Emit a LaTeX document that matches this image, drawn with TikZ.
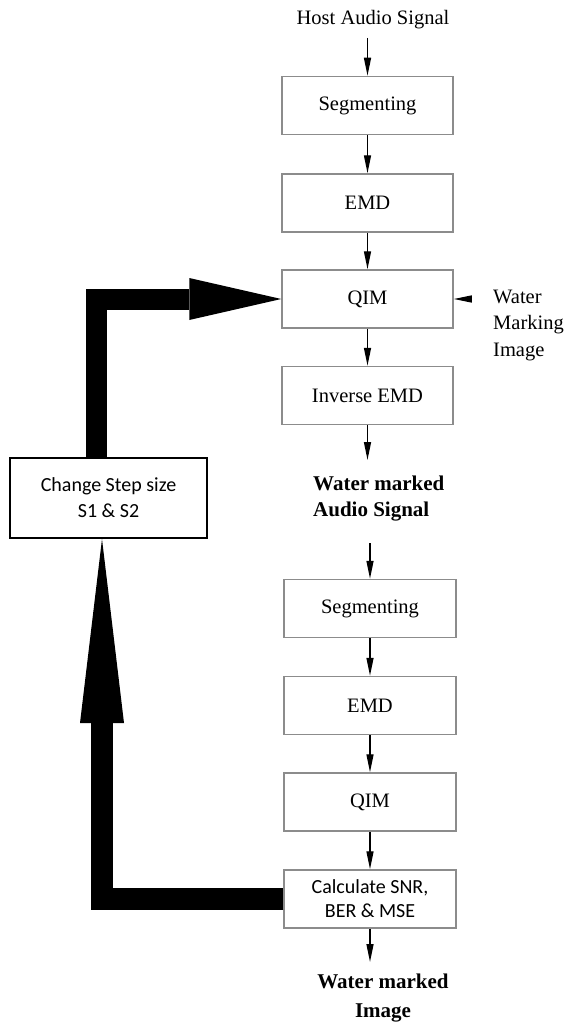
\documentclass[tikz,border=0pt]{standalone}
\usepackage{fontspec}
\setmainfont{Liberation Serif}
\newfontfamily\calib{Carlito}
\usetikzlibrary{arrows.meta}
\definecolor{boxgray}{RGB}{140,140,140}
\begin{document}
\begin{tikzpicture}[x=1pt,y=-1pt,
  box/.style={draw=boxgray, line width=1.5pt, minimum width=171pt, minimum height=58pt, inner sep=0pt, align=center, font=\fontsize{20.5}{26}\selectfont},
  sbox/.style={box, font=\calib\fontsize{20}{24}\selectfont},
  lbl/.style={inner sep=2pt, font=\fontsize{20.5}{26.5}\selectfont},
  blbl/.style={inner sep=2pt, font=\bfseries\fontsize{21}{26}\selectfont},
  arr/.style={draw=black, line width=1.4pt, -{Triangle[length=18pt,width=7pt]}},
  thick1/.style={draw=black, line width=21pt, line join=miter, -{Triangle[length=92pt,width=42pt,line width=0pt]}},
  thick2/.style={draw=black, line width=22pt, line join=miter, -{Triangle[length=184pt,width=44pt,line width=0pt]}}
]
\useasboundingbox (0,0) rectangle (566,1025);

% upper chain
\node[lbl] (host) at (373,20) {Host Audio Signal};
\node[box] (seg1) at (367.5,105.5) {Segmenting};
\node[box] (emd1) at (367.5,203) {EMD};
\node[box] (qim1) at (367.5,299) {QIM};
\node[box] (inv1) at (367.5,395.5) {Inverse EMD};
\node[blbl, align=left, anchor=north west] (wma) at (311,474) {Water marked\\Audio Signal};
\node[lbl, align=left, anchor=west] (wmi) at (491,325) {Water\\Marking\\Image};
\coordinate (wmin) at (470,299);

% lower chain
\coordinate (a2) at (370,543);
\node[box, minimum width=172pt] (seg2) at (370,608.5) {Segmenting};
\node[box, minimum width=172pt] (emd2) at (370,705.5) {EMD};
\node[box, minimum width=172pt] (qim2) at (370,802) {QIM};
\node[sbox, minimum width=172pt] (calc) at (370,899) {Calculate SNR,\\BER \& MSE};
\node[blbl, align=center, anchor=north] (wmimg) at (383,972) {Water marked\\[3pt]Image};

% change step box
\node[draw=black, line width=2pt, minimum width=197pt, minimum height=80pt, inner sep=0pt, align=center, font=\calib\fontsize{20}{26}\selectfont] (chg) at (108.5,498) {Change Step size\\S1 \& S2};

% thin arrows
\draw[arr] (seg1.north |- 0,38) -- (seg1.north);
\draw[arr] (seg1.south) -- (emd1.north);
\draw[arr] (emd1.south) -- (qim1.north);
\draw[arr] (qim1.south) -- (inv1.north);
\draw[arr] (inv1.south) -- (inv1.south |- 0,460);
\draw[arr] (wmin) -- (qim1.east);
\draw[arr] (a2) -- (seg2.north);
\draw[arr] (seg2.south) -- (emd2.north);
\draw[arr] (emd2.south) -- (qim2.north);
\draw[arr] (qim2.south) -- (calc.north);
\draw[arr] (calc.south) -- (calc.south |- 0,962);

% thick feedback arrows
\draw[thick1] ([xshift=-12.5pt]chg.north) |- (qim1.west);
\draw[thick2] (calc.west) -| ([xshift=-6.5pt]chg.south);
\end{tikzpicture}
\end{document}
